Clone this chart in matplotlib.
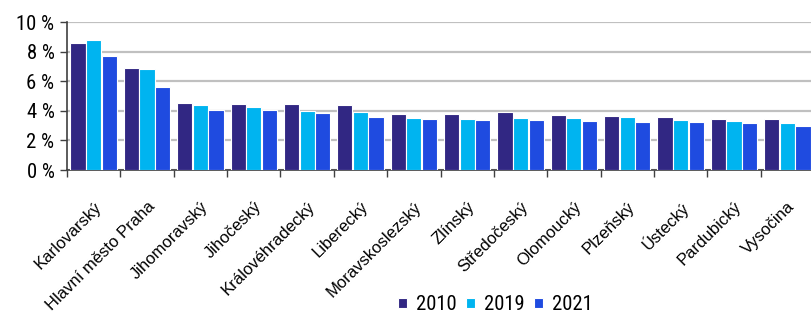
import matplotlib
matplotlib.use("Agg")
import matplotlib.pyplot as plt
import numpy as np

plt.rcParams["font.family"] = ["Liberation Sans", "DejaVu Sans"]
NARROW = ["Roboto Condensed", "Liberation Sans", "DejaVu Sans"]

categories = ["Karlovarský", "Hlavní město Praha", "Jihomoravský", "Jihočeský",
              "Královéhradecký", "Liberecký", "Moravskoslezský", "Zlínský",
              "Středočeský", "Olomoucký", "Plzeňský", "Ústecký", "Pardubický", "Vysočina"]
v2010 = [8.62, 6.88, 4.54, 4.49, 4.45, 4.38, 3.77, 3.79, 3.93, 3.75, 3.68, 3.61, 3.48, 3.48]
v2019 = [8.78, 6.82, 4.40, 4.24, 3.97, 3.95, 3.54, 3.43, 3.54, 3.52, 3.59, 3.36, 3.32, 3.16]
v2021 = [7.74, 5.60, 4.04, 4.04, 3.84, 3.59, 3.43, 3.41, 3.41, 3.32, 3.27, 3.25, 3.18, 3.00]
series_labels = ["2010", "2019", "2021"]
colors = ["#312783", "#00B4F0", "#1F4BE0"]
yticks = [0, 2, 4, 6, 8, 10]

W, H = 811, 313
fig = plt.figure(figsize=(W / 100, H / 100), dpi=100)
ax = fig.add_axes([67 / W, (H - 170) / H, (814 - 67) / W, 147.7 / H])

x = np.arange(len(categories))
step = 0.292
bw = 0.285
for i, (vals, lab, c) in enumerate(zip([v2010, v2019, v2021], series_labels, colors)):
    ax.bar(x + (i - 1) * step, vals, width=bw, color=c, edgecolor="white",
           linewidth=0.8, label=lab, zorder=3)

ax.set_xlim(-0.5, len(categories) - 0.5)
ax.set_ylim(0, 10)
ax.set_yticks(yticks)
ax.set_yticklabels([f"{t} %" for t in yticks], fontsize=14.9, family=NARROW)
ax.yaxis.grid(True, color="#c0c0c0", linewidth=1.6, zorder=0)
ax.set_axisbelow(True)

ax.set_xticks(x)
ax.set_xticklabels(categories, rotation=45, ha="right", va="top",
                   rotation_mode="anchor", fontsize=12)
ax.set_xticks(np.arange(len(categories) + 1) - 0.5, minor=True)
ax.tick_params(axis="x", which="major", length=0, pad=21)
ax.tick_params(axis="x", which="minor", length=5, width=1, color="#404040")
ax.tick_params(axis="y", length=5, width=1, color="#404040", pad=4)

for s in ["top", "right"]:
    ax.spines[s].set_visible(False)
for s in ["left", "bottom"]:
    ax.spines[s].set_color("#404040")
    ax.spines[s].set_linewidth(1.2)

fig.legend(loc="center", bbox_to_anchor=(495.5 / W, 1 - 305 / H), ncol=3,
           frameon=False, prop={"family": NARROW, "size": 14.9},
           handlelength=0.42, handleheight=0.42,
           handletextpad=0.45, columnspacing=0.45, borderpad=0)

fig.savefig("out.png", dpi=100)
